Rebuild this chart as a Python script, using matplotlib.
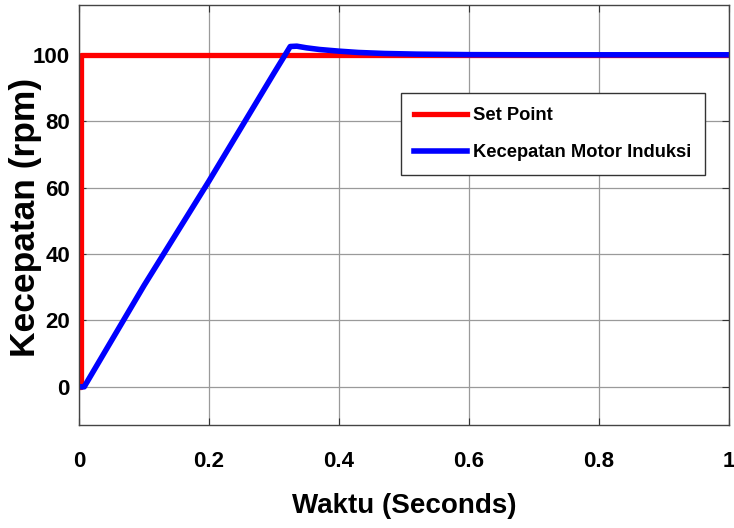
import matplotlib.pyplot as plt
import numpy as np

# set point step
sp_t = [0, 0.003, 0.003, 1.0]
sp_y = [0, 0, 100, 100]

# motor speed response
spd_t = [0, 0.008, 0.1, 0.2, 0.3, 0.325, 0.335, 0.35, 0.37, 0.4, 0.43, 0.47, 0.52, 0.6, 0.7, 1.0]
spd_y = [0, 0, 30.5, 62, 94.5, 102.5, 102.6, 102.1, 101.6, 101.1, 100.7, 100.4, 100.2, 100.05, 100, 100]

xticks = [0, 0.2, 0.4, 0.6, 0.8, 1]
xtick_labels = ['0', '0.2', '0.4', '0.6', '0.8', '1']
yticks = [0, 20, 40, 60, 80, 100]

plt.rcParams['font.family'] = ['Liberation Sans', 'DejaVu Sans']
plt.rcParams['font.weight'] = 'bold'

fig = plt.figure(figsize=(7.34, 5.28), dpi=100)
ax = fig.add_axes([79/734, 103/528, 650/734, 420/528])

ax.plot(sp_t, sp_y, color='#ff0000', lw=3.8, label='Set Point')
ax.plot(spd_t, spd_y, color='#0000ff', lw=4.0, label='Kecepatan Motor Induksi')

ax.set_xlim(0, 1)
ax.set_ylim(-11.5, 115)
ax.set_xticks(xticks)
ax.set_xticklabels(xtick_labels)
ax.set_yticks(yticks)
ax.grid(True, color='#9a9a9a', lw=0.9)
ax.tick_params(direction='in', top=True, right=True, labelsize=16, length=5, color='#333333')
ax.tick_params(axis='x', pad=19)
ax.tick_params(axis='y', pad=6.5)
for s in ax.spines.values():
    s.set_color('#444444')
    s.set_linewidth(1.0)

ax.set_xlabel('Waktu (Seconds)', fontsize=20, fontweight='bold', va='center')
ax.xaxis.set_label_coords(0.5, -(506 - 425) / 420)
ax.set_ylabel('Kecepatan (rpm)', fontsize=25.5, fontweight='bold', va='center')
ax.yaxis.set_label_coords((26 - 79) / 650, (425 - 217) / 420)

leg = ax.legend(loc='upper right', bbox_to_anchor=(0.963, 0.790), borderaxespad=0, fontsize=13.2,
                frameon=True, fancybox=False, edgecolor='#333333', framealpha=1, handlelength=2.9,
                handletextpad=0.3, borderpad=0.75, labelspacing=1.1)
leg.get_frame().set_linewidth(1.0)

fig.savefig('out.png', dpi=100)
